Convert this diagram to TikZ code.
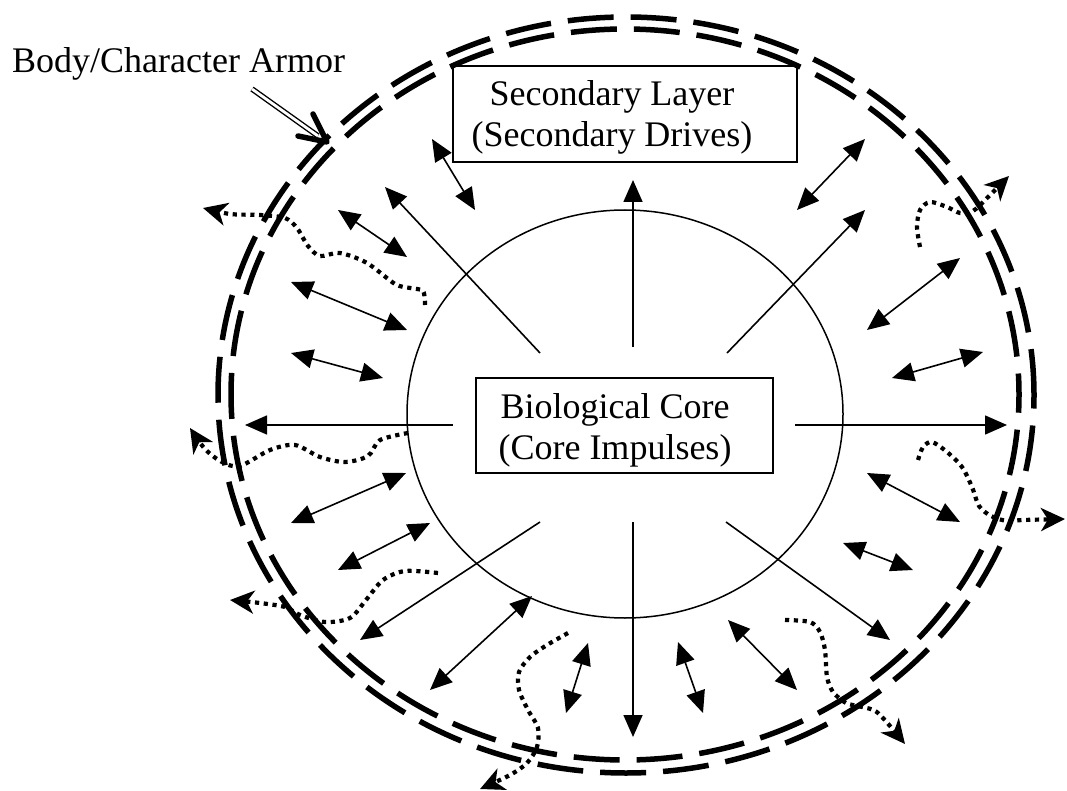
\documentclass[tikz,border=0pt]{standalone}
\usepackage{fontspec}
\setmainfont{Liberation Serif}
\usetikzlibrary{arrows.meta}
\begin{document}
\begin{tikzpicture}[x=1pt,y=-1pt,
  txt/.style={font=\fontsize{36}{41}\selectfont, inner sep=0pt, align=center},
  boxed/.style={draw, line width=1.6pt, inner sep=0pt},
  ring/.style={line width=5.5pt, dash pattern=on 46pt off 17pt},
  core/.style={line width=1.5pt},
  radial/.style={line width=1.6pt, -{Triangle[length=22pt,width=19pt]}},
  twoway/.style={line width=1.6pt, {Triangle[length=22pt,width=19pt]}-{Triangle[length=22pt,width=19pt]}},
  squig/.style={line width=4.2pt, dash pattern=on 4.2pt off 4.6pt, -{Stealth[length=24pt,width=23pt,inset=7pt]}},
  armline/.style={double, double distance=2.8pt, line width=1.4pt},
  chevron/.style={line width=5.5pt, line cap=round, line join=round}
]
\useasboundingbox (0,0) rectangle (1067,791);

% armor rings
\draw[ring] (626,395) ellipse [x radius=408pt, y radius=378pt];
\draw[ring, dash phase=25pt] (625,394.5) ellipse [x radius=394pt, y radius=365.5pt];

% inner core circle
\draw[core] (625,414) ellipse [x radius=218pt, y radius=204pt];

% boxes
\node[boxed, minimum width=344pt, minimum height=96pt] (sec) at (625,114) {};
\node[txt] (secT) at (612,117) {Secondary Layer\\(Secondary Drives)};
\node[boxed, fill=white, minimum width=297pt, minimum height=95pt] (bio) at (624.5,425.5) {};
\node[txt] (bioT) at (615,430) {Biological Core\\(Core Impulses)};

% label
\node[txt, anchor=base west] (armor) at (12,73) {Body/Character Armor};
\coordinate (armS) at (252,89);
\coordinate (armE) at (318,136);
\coordinate (armTip) at (327,142);
\draw[armline] (armS) -- (armE);
\draw[chevron] (armTip) ++(-14,-28) -- (armTip) -- ++(-29,-6);

% radial arrows
\foreach \n/\ax/\ay/\bx/\by in {
  1/633/347/633/180, 2/727/353/865/210, 3/540/353/385/187, 4/453/425/245/425,
  5/795/425/1007/425, 6/633/522/633/737, 7/726/522/890/640, 8/540/522/360/640} {
  \coordinate (r\n a) at (\ax,\ay);
  \coordinate (r\n b) at (\bx,\by);
  \draw[radial] (r\n a) -- (r\n b);
}

% two-way arrows
\foreach \n/\ax/\ay/\bx/\by in {
  a/432/139/475/210, b/338/210/407/257, c/291/282/407/330, d/291/353/383/378,
  e/797/210/865/139, f/867/330/960/258, g/892/378/983/352,
  h/291/523/406/473, i/338/570/430/523, j/430/690/532/596,
  k/566/713/588/643, l/678/642/703/713, m/728/620/797/690,
  n/843/543/913/570, o/867/473/960/522} {
  \coordinate (t\n a) at (\ax,\ay);
  \coordinate (t\n b) at (\bx,\by);
  \draw[twoway] (t\n a) -- (t\n b);
}

% dotted escaping impulses
\coordinate (s1a) at (425,305); \coordinate (s1b) at (203,208);
\draw[squig] plot[smooth, tension=0.5] coordinates {(s1a) (423,291) (410,288) (395,284) (367,263) (340,253) (320,256) (308,246) (297,228) (285,218) (260,215) (230,214) (s1b)};

\coordinate (s2a) at (408,433); \coordinate (s2b) at (190,428);
\draw[squig] plot[smooth, tension=0.5] coordinates {(s2a) (380,440) (368,456) (345,462) (320,457) (295,445) (270,450) (240,466) (222,462) (205,449) (s2b)};

\coordinate (s3a) at (438,573); \coordinate (s3b) at (230,600);
\draw[squig] plot[smooth, tension=0.5] coordinates {(s3a) (405,571) (383,580) (366,600) (350,618) (325,622) (300,615) (285,607) (260,603) (s3b)};

\coordinate (s4a) at (568,633); \coordinate (s4b) at (480,789);
\draw[squig] plot[smooth, tension=0.5] coordinates {(s4a) (547,645) (530,657) (519,672) (519,690) (528,710) (538,728) (537,747) (527,763) (510,775) (s4b)};

\coordinate (s5a) at (785,620); \coordinate (s5b) at (905,744);
\draw[squig] plot[smooth, tension=0.5] coordinates {(s5a) (810,622) (820,632) (825,650) (827,677) (833,692) (846,703) (862,707) (878,713) (s5b)};

\coordinate (s6a) at (918,460); \coordinate (s6b) at (1065,519);
\draw[squig] plot[smooth, tension=0.5] coordinates {(s6a) (923,447) (932,442) (947,452) (962,467) (972,487) (979,506) (991,516) (1007,521) (1023,520) (s6b)};

\coordinate (s7a) at (920,247); \coordinate (s7b) at (1009,176);
\draw[squig] plot[smooth, tension=0.5] coordinates {(s7a) (917,227) (920,210) (930,202) (947,207) (960,213) (973,211) (987,198) (s7b)};

\end{tikzpicture}
\end{document}
